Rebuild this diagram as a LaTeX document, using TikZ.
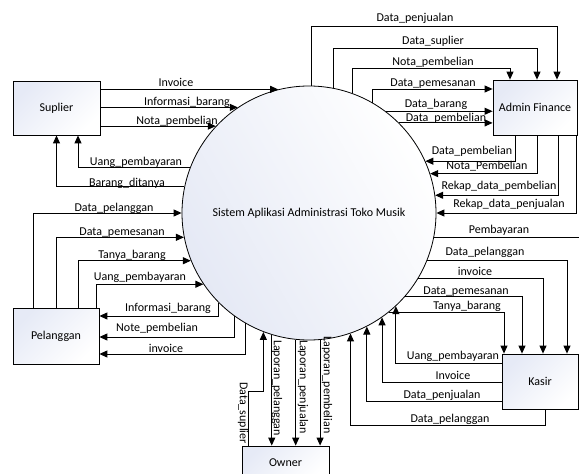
\documentclass[tikz,border=0pt]{standalone}
\usepackage{fontspec}
\setmainfont{Carlito}
\usepackage{tikz}
\usetikzlibrary{
  arrows.meta,
  positioning,
  shapes.geometric
}
\definecolor{entblue}{RGB}{230,234,246}
\definecolor{procblue}{RGB}{229,233,245}

\begin{document}
\begin{tikzpicture}[
  x=1pt,y=-1pt,
  font=\fontsize{12}{14}\selectfont,
  ent/.style={rectangle,draw,line width=0.8pt,top color=entblue,bottom color=white,shading angle=45,minimum width=86pt,minimum height=55pt,align=center},
  proc/.style={circle,draw,line width=0.8pt,top color=white,bottom color=procblue,shading angle=-60,minimum size=254pt,inner sep=0pt},
  arr/.style={-{Triangle[length=8pt,width=7pt]},line width=1pt},
  flow/.style={line width=1pt},
  lbl/.style={anchor=base,inner sep=0pt},
  vlbl/.style={rotate=-90,inner sep=0pt}
]
\clip (0,0) rectangle (579,474);
\node[proc] (sys) at (309,213) {Sistem Aplikasi Administrasi Toko Musik};
\node[ent,minimum width=87pt,minimum height=54pt] (sup) at (56.5,108) {Suplier};
\node[ent,minimum width=84pt] (adm) at (535,107.5) {Admin Finance};
\node[ent,minimum height=56pt] (pel) at (56,336) {Pelanggan};
\node[ent,minimum width=76pt] (kas) at (540,381.5) {Kasir};
\node[ent,minimum width=87pt,minimum height=34pt] (own) at (285.5,463) {Owner};
\coordinate (edge) at (579,238);

\draw[arr] (sys.104.4 -| sup.east) -- (sys.104.4);
\draw[arr] (sys.124.2 -| sup.east) -- (sys.124.2);
\draw[arr] (sys.137.4 -| sup.east) -- (sys.137.4);
\draw[arr] (sys.159.7) -| ([xshift=21.5pt]sup.south);
\draw[arr] (sys.168.2) -| (sup.south);
\node[lbl] at (176,86.5) {Invoice};
\node[lbl] at (187,105) {Informasi\_barang};
\node[lbl] at (177,124) {Nota\_pembelian};
\node[lbl] at (136,165) {Uang\_pembayaran};
\node[lbl] at (127,186) {Barang\_ditanya};

\draw[arr] (sys.89.5) |- ([xshift=22pt,yshift=53pt]adm.north) -- ([xshift=22pt]adm.north);
\draw[arr] (sys.79.1) |- ([xshift=2pt,yshift=31pt]adm.north) -- ([xshift=2pt]adm.north);
\draw[arr] (sys.70.2) |- ([xshift=-25pt,yshift=11pt]adm.north) -- ([xshift=-25pt]adm.north);
\draw[arr] (sys.60.3) |- ([yshift=18.5pt]adm.west);
\draw[arr] (sys.53.4) -- (sys.53.4 -| adm.west);
\draw[arr] (sys.45.1) -- (sys.45.1 -| adm.west);
\draw[arr] ([xshift=-20pt]adm.south) |- (sys.24.7);
\draw[arr] ([xshift=2pt]adm.south) |- (sys.18.8);
\draw[arr] ([xshift=23pt]adm.south) |- (sys.8.1);
\draw[arr] ([xshift=41pt]adm.south) |- (sys.-0.9);
\node[lbl] at (415,21) {Data\_penjualan};
\node[lbl] at (433,44) {Data\_suplier};
\node[lbl] at (433,65) {Nota\_pembelian};
\node[lbl] at (433,86) {Data\_pemesanan};
\node[lbl] at (436,107) {Data\_barang};
\node[lbl] at (446,121) {Data\_pembelian};
\node[lbl] at (472,154) {Data\_pembelian};
\node[lbl] at (487,169.5) {Nota\_Pembelian};
\node[lbl] at (499,189) {Rekap\_data\_pembelian};
\node[lbl] at (509,207) {Rekap\_data\_penjualan};

\draw[flow] (sys.-11.4) -- (sys.-11.4 -| edge);
\draw[arr] (sys.-22.7) -| ([xshift=27pt]kas.north);
\draw[arr] (sys.-31.8) -| ([xshift=3pt]kas.north);
\draw[arr] (sys.-41.4) -| ([xshift=-18pt]kas.north);
\draw[arr] (sys.-51.2) -| ([xshift=-36pt]kas.north);
\draw[arr] ([yshift=18.5pt]kas.west) -| (sys.-47.4);
\draw[arr] ([yshift=-0.5pt]kas.west) -| (sys.-55.5);
\draw[arr] ([yshift=-19.5pt]kas.west) -| (sys.-63.8);
\draw[arr] ([xshift=5pt]kas.south) -- ++(0,16) -| (sys.-71.2);
\node[lbl] at (499,233) {Pembayaran};
\node[lbl] at (485,255) {Data\_pelanggan};
\node[lbl] at (475,275.5) {invoice};
\node[lbl] at (466,294) {Data\_pemesanan};
\node[lbl] at (467,309) {Tanya\_barang};
\node[lbl] at (453,359) {Uang\_pembayaran};
\node[lbl] at (453,379) {Invoice};
\node[lbl] at (442,398) {Data\_penjualan};
\node[lbl] at (450,422) {Data\_pelanggan};

\draw[arr] ([xshift=-37.5pt]own.north) -- ++(0,-54) -| (sys.-111.7);
\draw[arr] (sys.-107.9) -- (sys.-107.9 |- own.north);
\draw[arr] (sys.-96.3) -- (sys.-96.3 |- own.north);
\draw[arr] (sys.-85.9) -- (sys.-85.9 |- own.north);
\node[vlbl] at (243,413) {Data\_suplier};
\node[vlbl] at (277,388) {Laporan\_pelanggan};
\node[vlbl] at (303,387) {Laporan\_penjualan};
\node[vlbl] at (327,385) {Laporan\_pembelian};

\draw[arr] ([xshift=-23pt]pel.north) |- (sys.180.5);
\draw[arr] (pel.north) |- (sys.191.4);
\draw[arr] ([xshift=22pt]pel.north) |- (sys.202.2);
\draw[arr] ([xshift=40pt]pel.north) |- (sys.214.0);
\draw[arr] (sys.225.1) |- ([yshift=20pt]pel.east);
\draw[arr] (sys.234.4) |- ([yshift=-1pt]pel.east);
\draw[arr] (sys.240.8) |- ([yshift=-18pt]pel.east);
\node[lbl] at (114,211) {Data\_pelanggan};
\node[lbl] at (122,235) {Data\_pemesanan};
\node[lbl] at (132,258) {Tanya\_barang};
\node[lbl] at (140,280) {Uang\_pembayaran};
\node[lbl] at (168,311) {Informasi\_barang};
\node[lbl] at (157,331) {Note\_pembelian};
\node[lbl] at (166,352) {invoice};
\end{tikzpicture}
\end{document}
